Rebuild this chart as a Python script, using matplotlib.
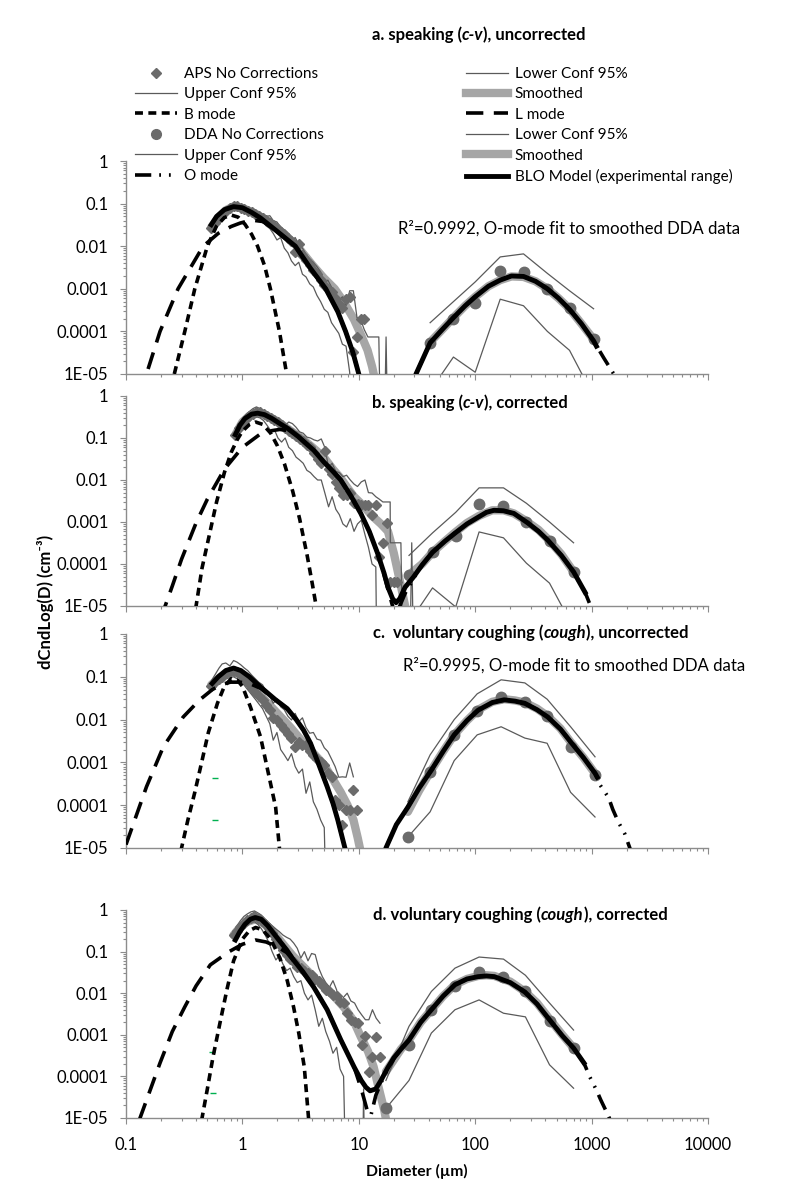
import matplotlib
matplotlib.use('Agg')
import matplotlib.pyplot as plt
from matplotlib.lines import Line2D
from matplotlib.ticker import LogLocator, NullFormatter, FixedLocator, FixedFormatter

plt.rcParams['font.family'] = ['Lato', 'DejaVu Sans']

# axis ticks
x_ticks = [0.1, 1, 10, 100, 1000, 10000]
x_tick_labels = ['0.1', '1', '10', '100', '1000', '10000']
y_ticks = [1e-5, 1e-4, 1e-3, 1e-2, 1e-1, 1]
y_tick_labels = ['1E-05', '0.0001', '0.001', '0.01', '0.1', '1']

# ---------------- panel a: speaking, uncorrected ----------------
a_aps = [(0.54, 0.027), (0.58, 0.036), (0.63, 0.046), (0.67, 0.056), (0.72, 0.066), (0.78, 0.078),
         (0.84, 0.09), (0.90, 0.088), (0.97, 0.08), (1.04, 0.074), (1.11, 0.068), (1.20, 0.062),
         (1.29, 0.058), (1.38, 0.052), (1.49, 0.046), (1.60, 0.042), (1.72, 0.036), (1.84, 0.032),
         (1.98, 0.027), (2.13, 0.022), (2.29, 0.019), (2.46, 0.016), (2.64, 0.013), (2.84, 0.0072),
         (3.05, 0.011), (3.28, 0.0062), (3.52, 0.0048), (3.79, 0.0036), (4.07, 0.0028), (4.37, 0.0022),
         (4.70, 0.0016), (5.05, 0.0012), (5.42, 0.001), (5.83, 0.00085), (6.26, 0.0006), (6.73, 0.00045),
         (7.23, 0.00035), (7.77, 0.00058), (8.35, 0.00065), (8.98, 3.3e-5), (9.65, 7.4e-5),
         (10.37, 0.0002), (11.14, 0.0002)]
a_aps_up = [(0.54, 0.031), (0.63, 0.055), (0.72, 0.078), (0.84, 0.1), (0.97, 0.092), (1.11, 0.08),
            (1.29, 0.068), (1.49, 0.056), (1.60, 0.05), (1.72, 0.052), (1.84, 0.04), (1.98, 0.037),
            (2.13, 0.028), (2.29, 0.024), (2.46, 0.018), (2.64, 0.013), (2.84, 0.016), (3.05, 0.011),
            (3.28, 0.009), (3.52, 0.0065), (3.79, 0.005), (4.07, 0.0042), (4.37, 0.0033), (4.70, 0.0025),
            (5.05, 0.0013), (5.42, 0.0016), (5.83, 0.0011), (6.26, 0.0009), (6.73, 0.00052), (7.23, 0.00065),
            (7.77, 0.0004), (8.35, 0.0009), (8.98, 0.0009), (9.65, 0.00021), (10.37, 0.00019),
            (11.14, 0.00011), (11.97, 7.4e-5), (12.86, 7.4e-5), (13.82, 7.4e-5), (14.86, 7.4e-5),
            (15.96, 1e-9), (17.15, 7.4e-5), (18.43, 1e-9)]
a_aps_lo = [(0.54, 0.022), (0.63, 0.04), (0.72, 0.057), (0.84, 0.07), (0.97, 0.066), (1.11, 0.057),
            (1.29, 0.048), (1.49, 0.038), (1.60, 0.03), (1.72, 0.026), (1.84, 0.02), (1.98, 0.014),
            (2.13, 0.016), (2.29, 0.009), (2.46, 0.007), (2.64, 0.0045), (2.84, 0.0035), (3.05, 0.0042),
            (3.28, 0.0022), (3.52, 0.0019), (3.79, 0.0013), (4.07, 0.0011), (4.37, 0.0007), (4.70, 0.0005),
            (5.05, 0.00033), (5.42, 0.00028), (5.83, 0.00016), (6.26, 0.00012), (6.73, 9e-5), (7.23, 5e-5),
            (7.77, 4.5e-5), (8.35, 1.1e-5), (8.98, 1e-7)]
a_aps_sm = [(0.54, 0.028), (0.62, 0.046), (0.72, 0.07), (0.84, 0.086), (1.0, 0.079), (1.3, 0.058),
            (1.7, 0.037), (2.3, 0.019), (3.0, 0.0095), (4.0, 0.0036), (5.0, 0.0018), (6.2, 0.001),
            (7.4, 0.0005), (9.1, 0.00019), (10.5, 8e-5), (11.9, 3.6e-5), (13.0, 1.5e-5), (14.0, 6e-6)]
a_dda_d = [41, 65, 100, 164, 260, 417, 646, 1040]
a_dda_c = [5.4e-5, 1.95e-4, 4.7e-4, 2.6e-3, 2.5e-3, 1.0e-3, 3.5e-4, 6.6e-5]
a_dda_up = [1.6e-4, 5e-4, 1.45e-3, 5.6e-3, 6.6e-3, 2.3e-3, 9e-4, 3.4e-4]
a_dda_lo = [4e-6, 2.5e-5, 1.1e-5, 5.7e-4, 4.0e-4, 1.0e-4, 3.6e-5, 3e-6]
a_dda_sm = [(41, 5.6e-5), (52, 1.1e-4), (65, 2.1e-4), (82, 4e-4), (100, 6.5e-4), (130, 1.15e-3),
            (164, 1.6e-3), (205, 1.95e-3), (260, 1.9e-3), (330, 1.5e-3), (417, 1.0e-3), (520, 6e-4),
            (646, 3.4e-4), (820, 1.5e-4), (1040, 6.5e-5)]
a_b = [(0.26, 1e-5), (0.32, 1e-4), (0.39, 0.001), (0.5, 0.01), (0.6, 0.03), (0.7, 0.047), (0.8, 0.054),
       (0.92, 0.048), (1.05, 0.033), (1.2, 0.019), (1.35, 0.01), (1.55, 0.0035), (1.74, 0.001),
       (2.08, 1e-4), (2.4, 1e-5), (2.6, 2e-6)]
a_l = [(0.14, 3e-6), (0.15, 1e-5), (0.196, 1e-4), (0.28, 0.001), (0.46, 0.01), (0.62, 0.02), (0.8, 0.029),
       (0.96, 0.035), (1.2, 0.041), (1.5, 0.038), (2.0, 0.022), (2.85, 0.01), (3.85, 0.003), (5.2, 0.001),
       (6.6, 0.00029), (7.7, 0.0001), (8.9, 3.2e-5), (10.0, 1e-5), (11.0, 3e-6)]
a_o = [(25, 1e-6), (31, 1e-5), (41, 5.4e-5), (52, 1.1e-4), (65, 2.1e-4), (82, 4e-4), (100, 6.5e-4),
       (130, 1.15e-3), (164, 1.6e-3), (205, 2.0e-3), (260, 1.95e-3), (330, 1.5e-3), (417, 1.0e-3),
       (520, 6e-4), (646, 3.3e-4), (820, 1.5e-4), (1040, 6e-5), (1270, 2.4e-5), (1550, 1e-5), (1800, 3e-6)]
a_blo = [(0.54, 0.032), (0.6, 0.05), (0.7, 0.072), (0.84, 0.085), (1.0, 0.08), (1.2, 0.062), (1.43, 0.046),
         (2.0, 0.022), (2.85, 0.01), (3.85, 0.003), (5.2, 0.001), (6.6, 0.00029), (7.7, 0.0001),
         (8.9, 3.2e-5), (10.0, 1e-5), (12.0, 1e-6), (20.0, 1e-8), (27.0, 2e-6), (31, 1e-5), (41, 5.4e-5),
         (52, 1.1e-4), (65, 2.1e-4), (82, 4e-4), (100, 6.5e-4), (130, 1.15e-3), (164, 1.6e-3),
         (205, 2.0e-3), (260, 1.95e-3), (330, 1.5e-3), (417, 1.0e-3), (520, 6e-4), (646, 3.3e-4),
         (820, 1.5e-4), (1040, 6e-5), (1100, 4.5e-5)]

# ---------------- panel b: speaking, corrected ----------------
b_aps = [(0.87, 0.12), (0.93, 0.17), (1.0, 0.22), (1.07, 0.28), (1.15, 0.34), (1.23, 0.38), (1.32, 0.42),
         (1.42, 0.41), (1.52, 0.37), (1.63, 0.33), (1.75, 0.3), (1.88, 0.27), (2.02, 0.24), (2.17, 0.2),
         (2.33, 0.17), (2.5, 0.15), (2.69, 0.13), (2.89, 0.11), (3.1, 0.095), (3.33, 0.085), (3.58, 0.07),
         (3.84, 0.06), (4.13, 0.045), (4.43, 0.032), (4.76, 0.025), (5.1, 0.05), (5.5, 0.018), (5.9, 0.014),
         (6.35, 0.009), (6.8, 0.0065), (7.3, 0.0045), (7.85, 0.0044), (8.45, 0.005), (9.1, 0.0028),
         (9.75, 0.0027), (10.5, 0.0025), (11.3, 0.0025), (12.1, 0.0025), (13.0, 0.0015), (14.0, 0.0025),
         (15.0, 0.00015), (16.1, 0.00032), (17.3, 0.00095), (18.6, 3.7e-5), (20.0, 3.7e-5), (21.5, 3.7e-5)]
b_aps_up = [(0.87, 0.13), (0.93, 0.2), (1.0, 0.28), (1.07, 0.36), (1.15, 0.43), (1.23, 0.5), (1.32, 0.55),
            (1.42, 0.5), (1.52, 0.45), (1.63, 0.4), (1.75, 0.35), (1.88, 0.3), (2.02, 0.24), (2.17, 0.25),
            (2.33, 0.2), (2.5, 0.24), (2.69, 0.22), (2.89, 0.18), (3.1, 0.14), (3.33, 0.13), (3.58, 0.105),
            (3.84, 0.1), (4.13, 0.09), (4.43, 0.085), (4.76, 0.095), (5.1, 0.06), (5.5, 0.02), (5.9, 0.025),
            (6.35, 0.016), (6.8, 0.015), (7.3, 0.012), (7.85, 0.013), (8.45, 0.01), (9.1, 0.008),
            (9.75, 0.007), (10.5, 0.009), (11.3, 0.01), (12.1, 0.005), (13.0, 0.0049), (14.0, 0.004),
            (15.0, 0.0035), (16.1, 0.003), (17.3, 0.003), (18.6, 0.003), (18.65, 3.2e-4), (20.0, 3.2e-4),
            (21.5, 3.2e-4), (23.0, 3.2e-4), (24.7, 1e-9), (26.5, 1e-9), (28.5, 3.2e-4), (30.5, 1e-9)]
b_aps_lo = [(0.87, 0.1), (0.93, 0.14), (1.0, 0.18), (1.07, 0.23), (1.15, 0.27), (1.23, 0.3), (1.32, 0.32),
            (1.42, 0.3), (1.52, 0.26), (1.63, 0.2), (1.75, 0.15), (1.88, 0.16), (2.02, 0.1), (2.17, 0.08),
            (2.33, 0.1), (2.5, 0.06), (2.69, 0.05), (2.89, 0.035), (3.1, 0.03), (3.33, 0.025), (3.58, 0.017),
            (3.84, 0.015), (4.13, 0.012), (4.43, 0.01), (4.76, 0.01), (5.1, 0.005), (5.5, 0.0023),
            (5.9, 0.004), (6.35, 0.002), (6.8, 0.0015), (7.3, 0.0009), (7.85, 0.00076), (8.45, 0.0012),
            (9.1, 0.0006), (9.75, 0.0009), (10.5, 0.0011), (11.3, 0.0005), (12.1, 0.00025), (13.0, 0.0001),
            (14.0, 8.5e-5), (14.5, 1e-8)]
b_aps_sm = [(0.87, 0.12), (1.0, 0.24), (1.15, 0.34), (1.35, 0.4), (1.6, 0.35), (2.0, 0.25), (2.5, 0.16),
            (3.2, 0.1), (4.0, 0.06), (5.0, 0.035), (6.0, 0.018), (7.0, 0.011), (8.0, 0.0065), (9.1, 0.004),
            (11.0, 0.0024), (13.0, 0.0014), (15.5, 0.0009), (17.8, 0.0006), (20.0, 0.00018),
            (22.5, 4e-5), (25.0, 1e-5), (26.0, 4e-6)]
b_dda_d = [27, 43, 68, 108, 175, 275, 435, 700]
b_dda_c = [5.5e-5, 1.9e-4, 4.6e-4, 2.7e-3, 2.4e-3, 1.0e-3, 3.5e-4, 6.5e-5]
b_dda_up = [1.6e-4, 5.5e-4, 1.7e-3, 6.5e-3, 6.5e-3, 2.8e-3, 1.0e-3, 3.2e-4]
b_dda_lo = [4e-6, 2.7e-5, 9.5e-6, 5.8e-4, 4.2e-4, 1.05e-4, 3.5e-5, 3e-6]
b_dda_sm = [(27, 5.5e-5), (35, 1e-4), (43, 1.9e-4), (55, 3.5e-4), (68, 5.8e-4), (85, 9.5e-4),
            (108, 1.4e-3), (140, 1.9e-3), (175, 1.9e-3), (215, 1.6e-3), (275, 1.05e-3), (350, 6.5e-4),
            (435, 3.6e-4), (550, 1.7e-4), (700, 6.5e-5)]
b_b = [(0.37, 2e-6), (0.40, 1e-5), (0.45, 8e-5), (0.5, 3e-4), (0.6, 3e-3), (0.7, 0.015), (0.8, 0.045),
       (0.9, 0.09), (1.0, 0.145), (1.15, 0.21), (1.3, 0.24), (1.5, 0.21), (1.75, 0.13), (2.0, 0.065),
       (2.3, 0.024), (2.7, 0.0055), (3.1, 0.0012), (3.6, 1.6e-4), (4.0, 3.2e-5), (4.3, 1e-5), (4.5, 4e-6)]
b_l = [(0.2, 5e-6), (0.217, 1e-5), (0.25, 3e-5), (0.3, 1.3e-4), (0.4, 9.5e-4), (0.5, 3.5e-3), (0.7, 0.018),
       (1.0, 0.06), (1.4, 0.12), (1.8, 0.15), (2.1, 0.16), (2.44, 0.15), (3.0, 0.11), (3.5, 0.075),
       (4.1, 0.051), (5.0, 0.027), (6.0, 0.016), (7.0, 0.01), (8.5, 0.0043), (10.4, 0.0016),
       (12.3, 0.0006), (14.5, 0.00018), (16.5, 5.5e-5), (17.8, 2.5e-5), (19.5, 1e-5), (21, 4e-6)]
b_o = [(17, 1e-6), (20, 5e-6), (22.5, 1e-5), (25, 2e-5), (29.5, 4.5e-5), (35, 9.5e-5), (43, 1.9e-4),
       (55, 3.5e-4), (68, 5.6e-4), (85, 9e-4), (106, 1.3e-3), (125, 1.7e-3), (145, 1.9e-3), (175, 1.85e-3),
       (215, 1.6e-3), (283, 9.5e-4), (350, 6e-4), (420, 3.7e-4), (550, 1.6e-4), (700, 6.5e-5),
       (880, 2.1e-5), (980, 1e-5), (1100, 5e-6)]
b_blo = [(0.87, 0.12), (0.95, 0.2), (1.05, 0.29), (1.2, 0.37), (1.35, 0.39), (1.55, 0.36), (1.8, 0.29),
         (2.1, 0.22), (2.44, 0.17), (3.0, 0.11), (3.5, 0.075), (4.1, 0.051), (5.0, 0.027), (6.0, 0.016),
         (7.0, 0.01), (8.5, 0.0043), (10.4, 0.0016), (12.3, 0.0006), (14.5, 0.00018), (16.5, 6e-5),
         (17.8, 2.8e-5), (19.5, 1.5e-5), (20.9, 1.2e-5), (22.5, 1.5e-5), (25, 2.8e-5), (29.5, 4.9e-5),
         (35, 9.5e-5), (43, 1.9e-4), (55, 3.5e-4), (68, 5.6e-4), (85, 9e-4), (106, 1.3e-3), (125, 1.7e-3),
         (145, 1.9e-3), (175, 1.85e-3), (215, 1.6e-3), (283, 9.5e-4), (350, 6e-4), (420, 3.7e-4),
         (550, 1.6e-4), (700, 6.5e-5), (880, 2.1e-5)]

# ---------------- panel c: coughing, uncorrected ----------------
c_aps = [(0.54, 0.06), (0.58, 0.075), (0.63, 0.09), (0.67, 0.1), (0.72, 0.12), (0.78, 0.13), (0.84, 0.14),
         (0.90, 0.13), (0.97, 0.11), (1.04, 0.09), (1.11, 0.07), (1.20, 0.055), (1.29, 0.045),
         (1.38, 0.035), (1.49, 0.028), (1.60, 0.022), (1.72, 0.017), (1.84, 0.011), (1.98, 0.01),
         (2.13, 0.0075), (2.29, 0.006), (2.46, 0.0045), (2.64, 0.0037), (2.84, 0.0023), (3.05, 0.003),
         (3.28, 0.0025), (3.52, 0.0025), (3.79, 0.0018), (4.07, 0.0015), (4.37, 0.0012), (4.70, 0.001),
         (5.05, 0.00087), (5.42, 0.00056), (5.83, 0.00046), (6.26, 0.00013), (6.73, 0.0001),
         (7.23, 3.5e-5), (7.77, 7.8e-5), (8.35, 7.8e-5), (8.98, 0.00023), (9.65, 7.8e-5)]
c_aps_up = [(0.54, 0.08), (0.58, 0.11), (0.63, 0.16), (0.67, 0.2), (0.72, 0.21), (0.78, 0.18), (0.84, 0.24),
            (0.90, 0.22), (0.97, 0.19), (1.04, 0.16), (1.11, 0.14), (1.20, 0.11), (1.29, 0.09),
            (1.38, 0.075), (1.49, 0.065), (1.60, 0.045), (1.72, 0.035), (1.84, 0.024), (1.98, 0.03),
            (2.13, 0.02), (2.29, 0.017), (2.46, 0.012), (2.64, 0.0098), (2.84, 0.014), (3.05, 0.009),
            (3.28, 0.011), (3.52, 0.0065), (3.79, 0.0048), (4.07, 0.005), (4.37, 0.0035), (4.70, 0.0033),
            (5.05, 0.0022), (5.42, 0.0018), (5.83, 0.0012), (6.26, 0.0008), (6.73, 0.00045),
            (7.23, 0.00046), (7.77, 0.00045), (8.35, 0.00097), (8.98, 0.00046)]
c_aps_lo = [(0.54, 0.05), (0.63, 0.07), (0.72, 0.09), (0.84, 0.1), (0.97, 0.08), (1.11, 0.05), (1.29, 0.03),
            (1.49, 0.018), (1.60, 0.012), (1.72, 0.008), (1.84, 0.0033), (1.98, 0.005), (2.13, 0.002),
            (2.29, 0.0015), (2.46, 0.0011), (2.64, 0.0016), (2.84, 0.0008), (3.05, 0.00056),
            (3.28, 0.0007), (3.52, 0.00019), (3.79, 0.00035), (4.07, 0.00012), (4.37, 8e-5),
            (4.70, 4.5e-5), (5.05, 3e-5), (5.42, 1e-8)]
c_aps_sm = [(0.54, 0.065), (0.65, 0.1), (0.8, 0.13), (0.95, 0.12), (1.2, 0.065), (1.5, 0.032), (2.0, 0.014),
            (2.6, 0.0065), (3.3, 0.003), (4.2, 0.0015), (5.0, 0.0009), (6.0, 0.0004), (7.0, 0.0002),
            (8.0, 0.0001), (9.0, 4.5e-5), (9.8, 1.7e-5), (10.5, 7e-6)]
c_dda_d = [26.4, 41, 66, 104, 167, 267, 415, 660, 1070]
c_dda_c = [1.8e-5, 6e-4, 4.4e-3, 0.016, 0.034, 0.026, 0.012, 2.3e-3, 5.1e-4]
c_dda_up = [1.2e-4, 1.5e-3, 0.01, 0.04, 0.085, 0.072, 0.03, 0.0068, 1.35e-3]
c_dda_lo = [1.8e-5, 7e-5, 1.1e-3, 4.4e-3, 6.8e-3, 3.7e-3, 2.8e-3, 2.0e-4, 5.3e-5]
c_dda_sm = [(26.4, 7e-5), (33, 2.2e-4), (42, 6.6e-4), (53, 1.8e-3), (66, 4.4e-3), (85, 9.5e-3),
            (106, 0.017), (140, 0.026), (177, 0.03), (220, 0.028), (267, 0.025), (340, 0.018),
            (420, 0.012), (540, 0.0062), (660, 0.003), (850, 0.0013), (1070, 5.5e-4)]
c_b = [(0.28, 2e-6), (0.30, 1e-5), (0.34, 4.5e-5), (0.39, 2e-4), (0.45, 1.1e-3), (0.51, 5e-3),
       (0.61, 0.024), (0.7, 0.06), (0.8, 0.09), (0.9, 0.085), (1.0, 0.06), (1.17, 0.02), (1.43, 0.004),
       (1.67, 5.6e-4), (1.93, 9e-5), (2.08, 1e-5), (2.2, 3e-6)]
c_l = [(0.1, 1.2e-5), (0.15, 2.7e-4), (0.209, 2.3e-3), (0.31, 0.0115), (0.43, 0.029), (0.55, 0.05),
       (0.65, 0.065), (0.79, 0.075), (0.95, 0.075), (1.15, 0.07), (1.43, 0.054), (1.9, 0.03),
       (2.43, 0.018), (2.9, 0.01), (3.35, 0.0057), (3.85, 0.0028), (4.4, 0.0011), (5.35, 0.00027),
       (6.0, 0.00011), (6.6, 4.5e-5), (7.6, 1e-5), (8.3, 3e-6)]
c_o = [(14, 1e-6), (17.1, 1e-5), (21, 3.5e-5), (26.4, 9e-5), (33, 2.5e-4), (42, 6.6e-4), (53, 1.8e-3),
       (66, 4.4e-3), (85, 9.5e-3), (106, 0.0166), (140, 0.025), (177, 0.029), (220, 0.027), (267, 0.024),
       (340, 0.017), (420, 0.0115), (540, 0.006), (675, 0.0028), (850, 0.0013), (1070, 5.6e-4),
       (1170, 3.1e-4), (1400, 1.5e-4), (1520, 8e-5), (1700, 4e-5), (1920, 2.2e-5), (2130, 1e-5),
       (2300, 4e-6)]
c_blo = [(0.55, 0.07), (0.62, 0.1), (0.72, 0.14), (0.84, 0.16), (0.97, 0.14), (1.15, 0.1), (1.43, 0.058),
         (1.9, 0.03), (2.43, 0.018), (2.9, 0.01), (3.35, 0.0057), (3.85, 0.0028), (4.4, 0.0011),
         (5.35, 0.00027), (6.0, 0.00011), (6.6, 4.5e-5), (7.6, 1e-5), (9, 1e-6), (13, 1e-8), (15, 1e-6),
         (17.1, 1e-5), (21, 3.5e-5), (26.4, 9e-5), (33, 2.5e-4), (42, 6.6e-4), (53, 1.8e-3), (66, 4.4e-3),
         (85, 9.5e-3), (106, 0.0166), (140, 0.025), (177, 0.029), (220, 0.027), (267, 0.024),
         (340, 0.017), (420, 0.0115), (540, 0.006), (675, 0.0028), (850, 0.0013), (1070, 5.6e-4),
         (1120, 4.5e-4)]

# ---------------- panel d: coughing, corrected ----------------
d_aps = [(0.84, 0.25), (0.9, 0.32), (0.96, 0.4), (1.03, 0.5), (1.1, 0.58), (1.18, 0.65), (1.27, 0.72),
         (1.36, 0.65), (1.46, 0.55), (1.57, 0.45), (1.68, 0.36), (1.8, 0.28), (1.94, 0.2), (2.08, 0.15),
         (2.23, 0.11), (2.4, 0.085), (2.57, 0.065), (2.76, 0.055), (2.96, 0.043), (3.18, 0.04),
         (3.41, 0.035), (3.66, 0.03), (3.93, 0.028), (4.22, 0.022), (4.53, 0.02), (4.86, 0.016),
         (5.2, 0.012), (5.6, 0.011), (6.0, 0.009), (6.45, 0.0085), (6.9, 0.006), (7.4, 0.0058),
         (7.95, 0.0033), (8.55, 0.0023), (9.2, 0.002), (9.85, 0.0019), (10.6, 0.00056), (11.4, 0.00095),
         (12.2, 0.00013), (13.1, 0.0003), (14.1, 0.00089), (15.2, 0.0003)]
d_aps_up = [(0.84, 0.3), (0.9, 0.42), (0.96, 0.55), (1.03, 0.7), (1.1, 0.8), (1.18, 0.9), (1.27, 0.95),
            (1.36, 0.85), (1.46, 0.75), (1.57, 0.6), (1.68, 0.5), (1.8, 0.42), (1.94, 0.35), (2.08, 0.3),
            (2.23, 0.25), (2.4, 0.22), (2.57, 0.2), (2.76, 0.16), (2.96, 0.12), (3.18, 0.07), (3.41, 0.1),
            (3.66, 0.06), (3.93, 0.09), (4.22, 0.085), (4.53, 0.04), (4.86, 0.025), (5.2, 0.018),
            (5.6, 0.014), (6.0, 0.02), (6.45, 0.012), (6.9, 0.0047), (7.4, 0.008), (7.95, 0.01),
            (8.55, 0.0065), (9.2, 0.0058), (9.85, 0.004), (10.6, 0.003), (11.4, 0.0023), (12.2, 0.0023),
            (13.1, 0.004), (14.1, 0.0025), (15.2, 0.0019)]
d_aps_lo = [(0.84, 0.2), (0.9, 0.26), (0.96, 0.32), (1.03, 0.38), (1.1, 0.45), (1.18, 0.5), (1.27, 0.52),
            (1.36, 0.45), (1.46, 0.35), (1.57, 0.25), (1.68, 0.17), (1.8, 0.1), (1.94, 0.063), (2.08, 0.08),
            (2.23, 0.05), (2.4, 0.035), (2.57, 0.04), (2.76, 0.025), (2.96, 0.018), (3.18, 0.02),
            (3.41, 0.01), (3.66, 0.0069), (3.93, 0.009), (4.22, 0.004), (4.53, 0.0016), (4.86, 0.0025),
            (5.2, 0.0012), (5.6, 0.0007), (6.0, 0.00036), (6.45, 0.0005), (6.9, 0.00015), (7.4, 0.0001),
            (7.95, 1e-8), (10.6, 1e-8), (11.0, 5e-5), (11.4, 1e-8)]
d_aps_sm = [(0.84, 0.25), (0.95, 0.38), (1.1, 0.52), (1.3, 0.6), (1.5, 0.5), (1.8, 0.32), (2.2, 0.16),
            (2.7, 0.08), (3.5, 0.038), (4.5, 0.019), (6.0, 0.009), (7.5, 0.0045), (9.0, 0.0022),
            (10.4, 0.0009), (12.0, 0.0004), (13.4, 0.00017), (15.2, 4e-5), (16.5, 1.6e-5), (17.3, 8e-6)]
d_dda_d = [17.1, 27, 42, 67, 108, 175, 270, 435, 700]
d_dda_c = [1.7e-5, 5.6e-4, 4e-3, 0.015, 0.032, 0.025, 0.011, 2.1e-3, 4.8e-4]
d_dda_up = [8e-5, 1.6e-3, 0.011, 0.04, 0.074, 0.066, 0.027, 5.8e-3, 1.3e-3]
d_dda_lo = [1.7e-5, 8e-5, 1.1e-3, 4e-3, 6.9e-3, 3.3e-3, 2.7e-3, 1.9e-4, 5.2e-5]
d_dda_sm = [(17.1, 1.3e-4), (20, 2.5e-4), (23, 4.5e-4), (27, 7.5e-4), (34, 2e-3), (42, 4e-3), (53, 8.5e-3),
            (67, 0.016), (85, 0.022), (106, 0.026), (125, 0.027), (146, 0.026), (200, 0.019),
            (267, 0.011), (340, 0.0058), (435, 2.4e-3), (560, 1e-3), (700, 4.8e-4)]
d_b = [(0.42, 2e-6), (0.45, 1e-5), (0.5, 5e-5), (0.56, 3e-4), (0.65, 2.3e-3), (0.74, 0.013), (0.84, 0.06),
       (1.0, 0.2), (1.15, 0.32), (1.3, 0.38), (1.5, 0.33), (1.75, 0.2), (2.1, 0.07), (2.43, 0.02),
       (2.75, 4.7e-3), (3.05, 1.1e-3), (3.4, 1.7e-4), (3.7, 1e-5), (3.9, 2e-6)]
d_l = [(0.12, 2e-6), (0.132, 1e-5), (0.196, 2.1e-4), (0.25, 1.2e-3), (0.32, 4.7e-3), (0.4, 0.015),
       (0.53, 0.048), (0.76, 0.098), (1.0, 0.15), (1.3, 0.19), (1.6, 0.17), (2.0, 0.13), (2.4, 0.095),
       (2.75, 0.06), (3.3, 0.033), (4.1, 0.014), (5.35, 0.004), (7.0, 7.6e-4), (9.1, 1.7e-4),
       (10.5, 5e-5), (11.5, 2e-5), (12.3, 1e-5), (13.5, 3e-6)]
d_o = [(11, 2e-6), (12, 6e-6), (13, 1.5e-5), (14, 3.5e-5), (15.5, 7e-5), (17.7, 1.5e-4), (20, 2.7e-4),
       (23, 4.5e-4), (27, 7.5e-4), (34, 2e-3), (42, 4e-3), (53, 8.5e-3), (67, 0.016), (85, 0.022),
       (106, 0.025), (125, 0.026), (146, 0.025), (200, 0.018), (267, 0.0107), (340, 0.0055),
       (435, 2.3e-3), (560, 9.5e-4), (700, 4.8e-4), (860, 2.1e-4), (960, 1e-4), (1100, 4.7e-5),
       (1200, 2.7e-5), (1360, 1.3e-5), (1420, 1e-5), (1500, 6e-6)]
d_blo = [(0.87, 0.19), (0.95, 0.3), (1.05, 0.45), (1.17, 0.6), (1.29, 0.66), (1.45, 0.6), (1.65, 0.42),
         (2.0, 0.21), (2.4, 0.11), (2.75, 0.063), (3.3, 0.033), (4.1, 0.014), (5.35, 0.004), (7.0, 7.6e-4),
         (9.1, 1.7e-4), (10.5, 8e-5), (11.5, 5.5e-5), (12.5, 4.5e-5), (14.0, 5e-5), (15.5, 8e-5),
         (17.7, 1.6e-4), (20, 2.8e-4), (23, 4.5e-4), (27, 7.5e-4), (34, 2e-3), (42, 4e-3), (53, 8.5e-3),
         (67, 0.016), (85, 0.022), (106, 0.025), (125, 0.026), (146, 0.025), (200, 0.018), (267, 0.0107),
         (340, 0.0055), (435, 2.3e-3), (560, 9.5e-4), (700, 4.8e-4), (860, 2.1e-4)]

# stray green marks seen in panels c and d
c_green = [(0.585, 4.4e-4), (0.585, 4.5e-5)]
d_green = [(0.55, 3.9e-4), (0.56, 4.1e-5)]

# ---------------- styling ----------------
W, H = 792, 1186
MARK = '#6b6b6b'
CONF = '#5a5a5a'
SMOOTH = '#a6a6a6'
AXIS = '#8c8c8c'
B_DASH = (2.2, 1.5)
L_DASH = (4.8, 2.9)
O_DASH = (4.5, 2.2, 0.5, 2.2, 0.5, 2.2)


def xy(points):
    return [p[0] for p in points], [p[1] for p in points]


fig = plt.figure(figsize=(W / 100, H / 100), dpi=100)

panels = [
    dict(box=(126, 161, 708, 374), aps=a_aps, up=a_aps_up, lo=a_aps_lo, sm=a_aps_sm,
         dd=a_dda_d, dc=a_dda_c, dup=a_dda_up, dlo=a_dda_lo, dsm=a_dda_sm,
         b=a_b, l=a_l, o=a_o, blo=a_blo, green=[]),
    dict(box=(126, 396, 708, 606), aps=b_aps, up=b_aps_up, lo=b_aps_lo, sm=b_aps_sm,
         dd=b_dda_d, dc=b_dda_c, dup=b_dda_up, dlo=b_dda_lo, dsm=b_dda_sm,
         b=b_b, l=b_l, o=b_o, blo=b_blo, green=[]),
    dict(box=(126, 634, 708, 848), aps=c_aps, up=c_aps_up, lo=c_aps_lo, sm=c_aps_sm,
         dd=c_dda_d, dc=c_dda_c, dup=c_dda_up, dlo=c_dda_lo, dsm=c_dda_sm,
         b=c_b, l=c_l, o=c_o, blo=c_blo, green=c_green),
    dict(box=(126, 910, 708, 1118), aps=d_aps, up=d_aps_up, lo=d_aps_lo, sm=d_aps_sm,
         dd=d_dda_d, dc=d_dda_c, dup=d_dda_up, dlo=d_dda_lo, dsm=d_dda_sm,
         b=d_b, l=d_l, o=d_o, blo=d_blo, green=d_green),
]

axes = []
for i, p in enumerate(panels):
    left, top, right, bottom = p['box']
    ax = fig.add_axes([left / W, 1 - bottom / H, (right - left) / W, (bottom - top) / H])
    ax.set_xscale('log')
    ax.set_yscale('log')

    ax.plot(*xy(p['sm']), color=SMOOTH, lw=6, zorder=2, solid_capstyle='round')
    ax.plot(*xy(p['dsm']), color=SMOOTH, lw=6, zorder=2, solid_capstyle='round')
    ax.plot(*xy(p['up']), color=CONF, lw=0.9, zorder=3)
    ax.plot(*xy(p['lo']), color=CONF, lw=0.9, zorder=3)
    ax.plot(p['dd'], p['dup'], color=CONF, lw=0.9, zorder=3)
    ax.plot(p['dd'], p['dlo'], color=CONF, lw=0.9, zorder=3)
    ax.plot(*xy(p['aps']), ls='none', marker='D', ms=5.5, color=MARK, mec=MARK, zorder=4)
    ax.plot(p['dd'], p['dc'], ls='none', marker='o', ms=7.5, color=MARK, mec=MARK, zorder=4)
    ax.plot(*xy(p['b']), color='black', lw=2.6, dashes=B_DASH, zorder=5)
    ax.plot(*xy(p['l']), color='black', lw=2.6, dashes=L_DASH, zorder=5)
    ax.plot(*xy(p['o']), color='black', lw=2.6, dashes=O_DASH, zorder=5)
    ax.plot(*xy(p['blo']), color='black', lw=3.5, zorder=6)
    if p['green']:
        ax.plot(*xy(p['green']), ls='none', marker='_', ms=4, mew=1, color='#00b050', zorder=4)

    ax.set_xlim(0.1, 10000)
    ax.set_ylim(1e-5, 1)
    for side in ['top', 'right']:
        ax.spines[side].set_visible(False)
    for side in ['left', 'bottom']:
        ax.spines[side].set_color(AXIS)
        ax.spines[side].set_linewidth(1)
    ax.xaxis.set_major_locator(FixedLocator(x_ticks))
    ax.xaxis.set_minor_locator(LogLocator(base=10, subs=range(2, 10), numticks=20))
    ax.yaxis.set_major_locator(FixedLocator(y_ticks))
    ax.yaxis.set_major_formatter(FixedFormatter(y_tick_labels))
    ax.yaxis.set_minor_locator(LogLocator(base=10, subs=range(2, 10), numticks=20))
    ax.xaxis.set_minor_formatter(NullFormatter())
    ax.yaxis.set_minor_formatter(NullFormatter())
    ax.tick_params(which='both', direction='out', color=AXIS, width=0.8)
    ax.tick_params(which='major', length=4.5)
    ax.tick_params(which='minor', length=2.5)
    ax.tick_params(axis='y', labelsize=12, pad=8)
    if i == len(panels) - 1:
        ax.xaxis.set_major_formatter(FixedFormatter(x_tick_labels))
        ax.tick_params(axis='x', labelsize=12, pad=9)
    else:
        ax.tick_params(axis='x', labelbottom=False)
    axes.append(ax)


def rich_title(ax, x, y, parts, size=12):
    t = ax.text(x / W, 1 - y / H, parts[0][0], transform=fig.transFigure, fontsize=size,
                fontweight='bold', fontstyle=parts[0][1], ha='left', va='center')
    for text, style in parts[1:]:
        t = ax.annotate(text, xy=(1, 0), xycoords=t, fontsize=size, fontweight='bold',
                        fontstyle=style, ha='left', va='bottom', annotation_clip=False)


rich_title(axes[0], 372, 35, [('a. speaking (', 'normal'), ('c-v', 'italic'), ('), uncorrected', 'normal')])
rich_title(axes[1], 372, 403, [('b. speaking (', 'normal'), ('c-v', 'italic'), ('), corrected', 'normal')])
rich_title(axes[2], 373, 633, [('c.  voluntary coughing (', 'normal'), ('cough', 'italic'),
                               ('), uncorrected', 'normal')])
rich_title(axes[3], 373, 915, [('d. voluntary coughing (', 'normal'), ('cough', 'italic'),
                               ('), corrected', 'normal')])

fig.text(398 / W, 1 - 228 / H, 'R²=0.9992, O-mode fit to smoothed DDA data', fontsize=12.1,
         ha='left', va='center')
fig.text(403 / W, 1 - 665 / H, 'R²=0.9995, O-mode fit to smoothed DDA data', fontsize=12.1,
         ha='left', va='center')

fig.text(45 / W, 1 - 602 / H, 'dCndLog(D) (cm⁻³)', rotation=90, fontsize=12, fontweight='bold',
         ha='center', va='center')
fig.text(417 / W, 1 - 1171 / H, 'Diameter (µm)', fontsize=11.3, fontweight='bold',
         ha='center', va='center')

# legend
h_aps = Line2D([], [], ls='none', marker='D', ms=5, color=MARK)
h_dda = Line2D([], [], ls='none', marker='o', ms=7, color=MARK)
h_conf = Line2D([], [], color=CONF, lw=0.9)
h_smooth = Line2D([], [], color=SMOOTH, lw=6)
h_b = Line2D([], [], color='black', lw=2.6, dashes=B_DASH)
h_l = Line2D([], [], color='black', lw=2.6, dashes=L_DASH)
h_o = Line2D([], [], color='black', lw=2.6, dashes=O_DASH)
h_blo = Line2D([], [], color='black', lw=3.5)

handles = [h_aps, h_conf, h_b, h_dda, h_conf, h_o,
           h_conf, h_smooth, h_l, h_conf, h_smooth, h_blo]
labels = ['APS No Corrections', 'Upper Conf 95%', 'B mode', 'DDA No Corrections', 'Upper Conf 95%', 'O mode',
          'Lower Conf 95%', 'Smoothed', 'L mode', 'Lower Conf 95%', 'Smoothed', 'BLO Model (experimental range)']
fig.legend(handles, labels, ncol=2, loc='upper left', bbox_to_anchor=(135 / W, 1 - 67 / H),
           frameon=False, fontsize=11, handlelength=2.75, handletextpad=0.45, columnspacing=9.3,
           labelspacing=0.42, borderpad=0, borderaxespad=0)

fig.savefig('out.png', dpi=100)
